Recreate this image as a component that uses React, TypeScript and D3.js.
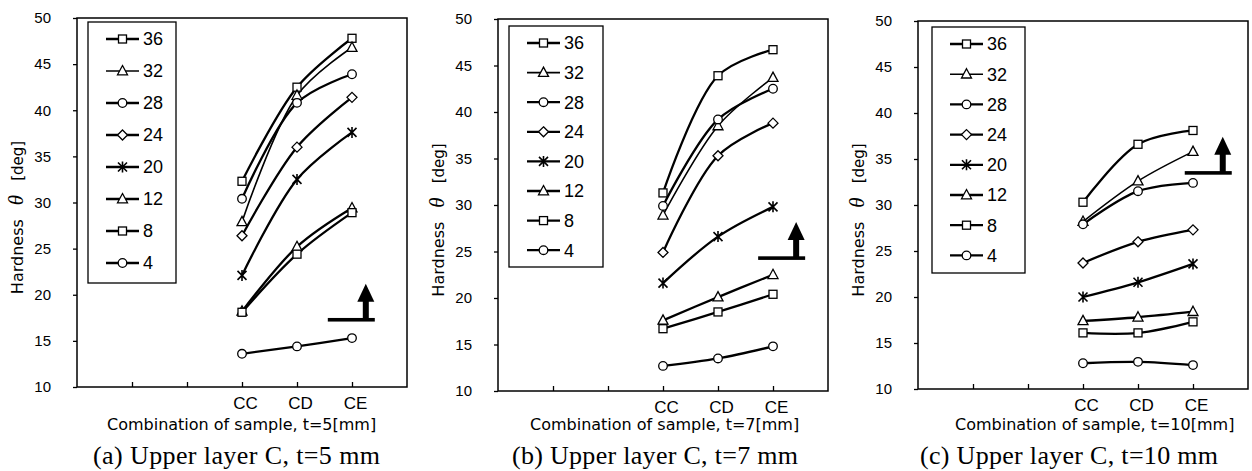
import React, { useEffect, useRef } from "react";
import * as d3 from "d3";

// series: thickness of lower layer (legend), markers as in the original figure
const seriesLabels = ["36", "32", "28", "24", "20", "12", "8", "4"];
const seriesMarkers = ["square", "triangle", "circle", "diamond", "star", "triangle", "square", "circle"];
const categories = ["CC", "CD", "CE"];
const xTickLabels = ["", "", "CC", "CD", "CE"];
const yTicks = [10, 15, 20, 25, 30, 35, 40, 45, 50];

// hardness values, one row per series (same order as seriesLabels), columns CC, CD, CE
const hardnessT5 = [
  [32.3, 42.5, 47.8],
  [27.9, 41.6, 46.8],
  [30.4, 40.8, 43.9],
  [26.4, 36.0, 41.4],
  [22.1, 32.5, 37.6],
  [18.2, 25.2, 29.4],
  [18.1, 24.4, 28.9],
  [13.6, 14.4, 15.3],
];
const hardnessT7 = [
  [31.3, 43.9, 46.7],
  [28.9, 38.5, 43.7],
  [29.9, 39.2, 42.5],
  [24.9, 35.3, 38.8],
  [21.6, 26.6, 29.8],
  [17.6, 20.1, 22.5],
  [16.7, 18.5, 20.4],
  [12.7, 13.5, 14.8],
];
const hardnessT10 = [
  [30.3, 36.6, 38.1],
  [28.2, 32.6, 35.8],
  [27.9, 31.5, 32.4],
  [23.7, 26.0, 27.3],
  [20.0, 21.6, 23.6],
  [17.4, 17.8, 18.4],
  [16.1, 16.1, 17.3],
  [12.8, 12.95, 12.6],
];

const titles = [
  "Combination of sample, t=5[mm]",
  "Combination of sample, t=7[mm]",
  "Combination of sample, t=10[mm]",
];
const captions = [
  "(a) Upper layer C, t=5 mm",
  "(b) Upper layer C, t=7 mm",
  "(c) Upper layer C, t=10 mm",
];
// arrow (surface mark) position: x in category slots, y in hardness units
const arrowSlot = [4.56, 4.73, 4.85];
const arrowValue = [17.3, 24.3, 33.5];

const panels = [
  { data: hardnessT5, left: 77, top: 18, bottom: 387, titleX: 107, capX: 93, capW: 287, leg: { dx: 11, dy: 4, w: 88, h: 261, step: 32 } },
  { data: hardnessT7, left: 498, top: 19, bottom: 391, titleX: 530, capX: 512, capW: 286, leg: { dx: 11, dy: 7, w: 94, h: 241, step: 29.6 } },
  { data: hardnessT10, left: 918, top: 21, bottom: 389, titleX: 955, capX: 920, capW: 298, leg: { dx: 14, dy: 6, w: 93, h: 246, step: 30.2 } },
];

const SANS = "'Liberation Sans', Arial, sans-serif";
const WIDE = "'DejaVu Sans', sans-serif";
const SERIF = "'Liberation Serif', 'Times New Roman', serif";

function drawMarker(g: any, type: string, cx: number, cy: number) {
  const m = g.append("g").attr("transform", `translate(${cx},${cy})`);
  if (type === "square") {
    m.append("rect").attr("x", -4).attr("y", -4).attr("width", 8).attr("height", 8)
      .attr("fill", "white").attr("stroke", "black").attr("stroke-width", 1.3);
  } else if (type === "triangle") {
    m.append("path").attr("d", "M0,-5.5L5,3.8L-5,3.8Z")
      .attr("fill", "white").attr("stroke", "black").attr("stroke-width", 1.3);
  } else if (type === "circle") {
    m.append("circle").attr("r", 4.3)
      .attr("fill", "white").attr("stroke", "black").attr("stroke-width", 1.3);
  } else if (type === "diamond") {
    m.append("path").attr("d", "M0,-5L5,0L0,5L-5,0Z")
      .attr("fill", "white").attr("stroke", "black").attr("stroke-width", 1.3);
  } else if (type === "star") {
    m.append("path").attr("d", "M-4.5,-4.5L4.5,4.5M-4.5,4.5L4.5,-4.5M0,-5.5L0,5.5")
      .attr("fill", "none").attr("stroke", "black").attr("stroke-width", 1.6);
  }
}

export default function App() {
  const ref = useRef<HTMLDivElement>(null);

  useEffect(() => {
    const root = d3.select(ref.current);
    root.selectAll("*").remove();
    const svg = root
      .append("svg")
      .attr("width", 1252)
      .attr("height", 471)
      .style("position", "absolute")
      .style("left", "0px")
      .style("top", "0px")
      .style("background", "white");

    panels.forEach((p, pi) => {
      const x = d3.scaleLinear().domain([0, 6]).range([p.left, p.left + 330]);
      const y = d3.scaleLinear().domain([10, 50]).range([p.bottom, p.top]);
      const g = svg.append("g");

      // plot frame
      g.append("rect")
        .attr("x", x(0)).attr("y", y(50))
        .attr("width", x(6) - x(0)).attr("height", y(10) - y(50))
        .attr("fill", "none").attr("stroke", "black").attr("stroke-width", 1.5);

      // y axis
      const ya = g.append("g")
        .attr("transform", `translate(${x(0)},0)`)
        .call(d3.axisLeft(y).tickValues(yTicks).tickSize(4).tickPadding(22));
      ya.select(".domain").remove();
      ya.selectAll("line").attr("stroke-width", 1.3);
      ya.selectAll("text").attr("font-family", SANS).attr("font-size", 15).attr("fill", "black");

      // x axis (slots 1..5, first two unlabeled)
      const xa = g.append("g")
        .attr("transform", `translate(0,${y(10)})`)
        .call(
          d3.axisBottom(x)
            .tickValues([1, 2, 3, 4, 5])
            .tickSizeInner(-5)
            .tickSizeOuter(0)
            .tickPadding(10)
            .tickFormat((d, i) => xTickLabels[i])
        );
      xa.select(".domain").remove();
      xa.selectAll("line").attr("stroke-width", 1.3);
      xa.selectAll("text").attr("font-family", SANS).attr("font-size", 17).attr("fill", "black").attr("dx", 3);

      // axis titles
      g.append("text")
        .attr("x", p.titleX).attr("y", 430)
        .attr("font-family", WIDE).attr("font-size", 16).attr("fill", "black")
        .text(titles[pi]);

      const yt = g.append("text")
        .attr("transform", `translate(${x(0) - 54},${(y(10) + y(50)) / 2 + 15}) rotate(-90)`)
        .attr("text-anchor", "middle")
        .attr("font-family", WIDE).attr("font-size", 16).attr("fill", "black");
      yt.append("tspan").text("Hardness");
      yt.append("tspan").attr("dx", 14).attr("font-family", SERIF).attr("font-style", "italic").attr("font-size", 21).text("θ");
      yt.append("tspan").attr("dx", 14).attr("font-size", 15).text("[deg]");

      // caption
      g.append("text")
        .attr("x", p.capX).attr("y", 464)
        .attr("font-family", SERIF).attr("font-size", 26).attr("fill", "black")
        .attr("textLength", p.capW).attr("lengthAdjust", "spacing")
        .text(captions[pi]);

      // series
      const line = d3.line<number>()
        .x((d, i) => x(i + 3))
        .y((d) => y(d))
        .curve(d3.curveCatmullRom);

      p.data.forEach((vals, si) => {
        g.append("path")
          .attr("d", line(vals))
          .attr("fill", "none")
          .attr("stroke", "black")
          .attr("stroke-width", si === 1 ? 1.6 : 2.3);
      });
      p.data.forEach((vals, si) => {
        vals.forEach((v, ci) => drawMarker(g, seriesMarkers[si], x(ci + 3), y(v)));
      });

      // surface arrow
      const bx = x(arrowSlot[pi]);
      const by = y(arrowValue[pi]);
      const ax = bx + 38;
      g.append("rect").attr("x", bx).attr("y", by - 1.7).attr("width", 47).attr("height", 3.6).attr("fill", "black");
      g.append("rect").attr("x", ax - 3).attr("y", by - 19).attr("width", 6).attr("height", 19).attr("fill", "black");
      g.append("path")
        .attr("d", `M${ax},${by - 36}L${ax + 8.5},${by - 18}L${ax - 8.5},${by - 18}Z`)
        .attr("fill", "black");

      // legend
      const lx = x(0) + p.leg.dx;
      const ly = y(50) + p.leg.dy;
      const lg = g.append("g").attr("transform", `translate(${lx},${ly})`);
      lg.append("rect").attr("width", p.leg.w).attr("height", p.leg.h)
        .attr("fill", "white").attr("stroke", "black").attr("stroke-width", 1.3);
      seriesLabels.forEach((lab, si) => {
        const ry = 17 + si * p.leg.step;
        lg.append("line").attr("x1", 18).attr("x2", 51).attr("y1", ry).attr("y2", ry)
          .attr("stroke", "black").attr("stroke-width", si === 1 ? 1.6 : 2.3);
        drawMarker(lg, seriesMarkers[si], 34.5, ry);
        lg.append("text").attr("x", 55).attr("y", ry).attr("dy", "0.36em")
          .attr("font-family", SANS).attr("font-size", 18).attr("fill", "black")
          .text(lab);
      });
    });
  }, []);

  return <div ref={ref} data-categories={categories.join(",")} />;
}
